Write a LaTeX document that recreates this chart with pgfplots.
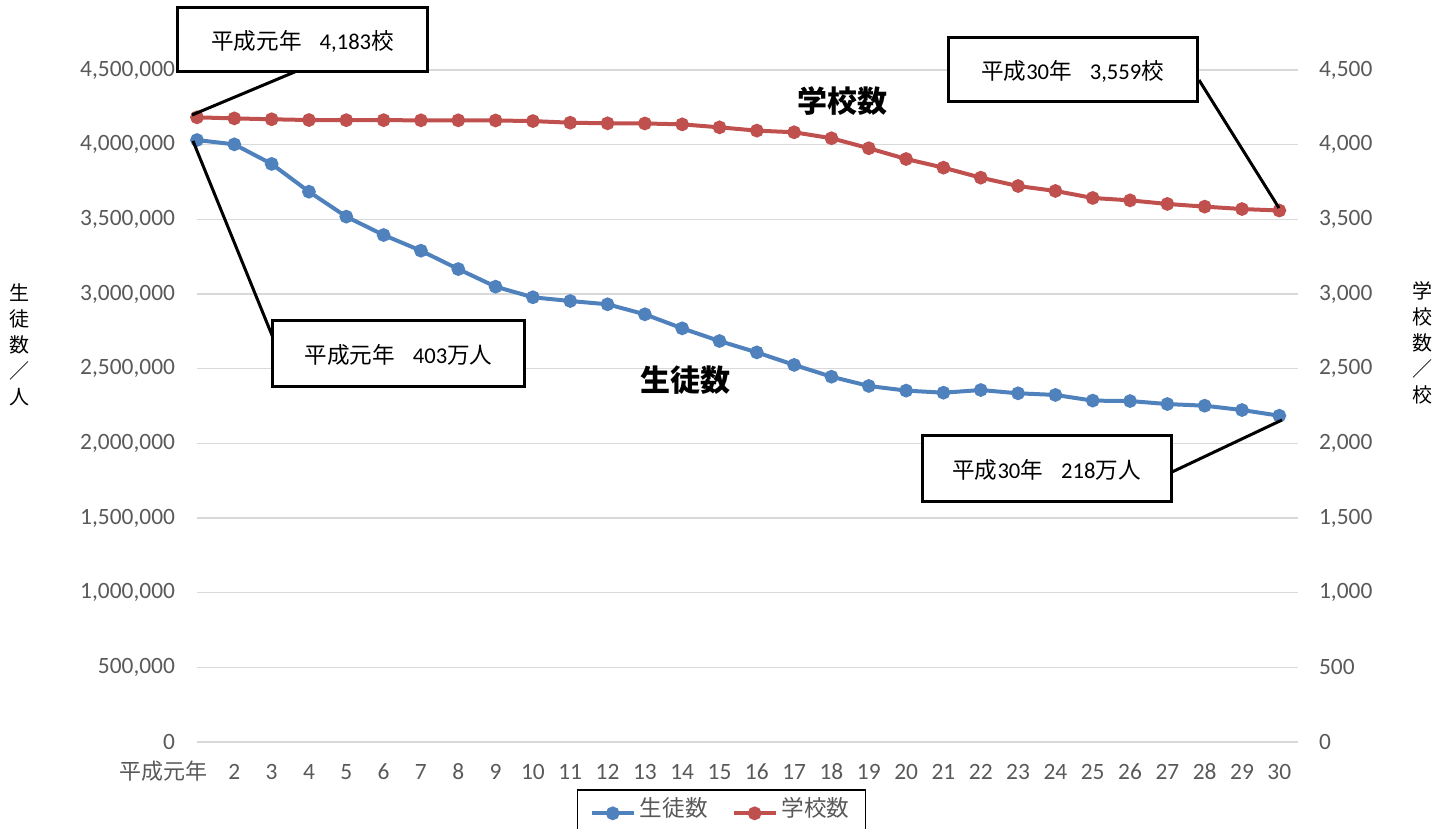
\documentclass[border=0pt]{standalone}
\usepackage{fontspec}
\setmainfont{Carlito}
\newfontfamily\jp{Noto Sans CJK JP}
\usepackage{pgfplots}
\usepackage{pgfplotstable}
\pgfplotsset{compat=1.18}
\definecolor{sblue}{HTML}{4F81BD}
\definecolor{sred}{HTML}{C0504D}
\definecolor{tickgray}{HTML}{595959}
\definecolor{gridgray}{HTML}{D9D9D9}

\pgfplotstableread{
x students schools
1 4031000 4183
2 4002000 4176
3 3871000 4170
4 3685000 4165
5 3518000 4164
6 3395000 4164
7 3290000 4163
8 3167000 4163
9 3049000 4162
10 2978000 4158
11 2953000 4147
12 2931000 4143
13 2864000 4142
14 2770000 4136
15 2685000 4116
16 2609000 4094
17 2525000 4083
18 2446000 4043
19 2384000 3976
20 2353000 3904
21 2339000 3846
22 2357000 3779
23 2335000 3723
24 2324000 3690
25 2286000 3643
26 2283000 3627
27 2263000 3603
28 2252000 3585
29 2223000 3569
30 2185000 3559
}\datatable

\begin{document}
\begin{tikzpicture}
\path[use as bounding box] (-98.5pt,-43.5pt) rectangle (625.5pt,371pt);

\begin{axis}[
  scale only axis, width=550.5pt, height=336pt,
  at={(0,0)}, anchor=south west,
  xmin=1, xmax=30.5, ymin=0, ymax=4500000,
  xtick={1,...,30},
  xticklabels={{\hbox to 0pt{\hss\jp\fontsize{11}{12}\selectfont 平成元年\hspace*{-5.5pt}}},2,3,4,5,6,7,8,9,10,11,12,13,14,15,16,17,18,19,20,21,22,23,24,25,26,27,28,29,30},
  ytick={0,500000,1000000,1500000,2000000,2500000,3000000,3500000,4000000,4500000},
  scaled y ticks=false,
  /pgf/number format/assume math mode=true,
  y tick label style={/pgf/number format/fixed,/pgf/number format/precision=0,/pgf/number format/1000 sep={,},
    font=\fontsize{11.7}{12}\selectfont, text=tickgray, xshift=-7.5pt},
  x tick label style={font=\fontsize{11.7}{12}\selectfont, text=tickgray, anchor=base, yshift=-19pt},
  axis line style={draw=none},
  major tick length=0pt,
  ymajorgrids, grid style={gridgray, line width=0.6pt},
  clip=false,
]
\addplot[sblue, line width=2pt, mark=*, mark size=2.4pt, mark options={fill=sblue, draw=sblue}] table[x=x, y=students] {\datatable};
\end{axis}

\begin{axis}[
  scale only axis, width=550.5pt, height=336pt,
  at={(0,0)}, anchor=south west,
  xmin=1, xmax=30.5, ymin=0, ymax=4500,
  hide x axis,
  axis y line*=right,
  ytick={0,500,1000,1500,2000,2500,3000,3500,4000,4500},
  /pgf/number format/assume math mode=true,
  y tick label style={/pgf/number format/fixed,/pgf/number format/precision=0,/pgf/number format/1000 sep={,},
    font=\fontsize{11.7}{12}\selectfont, text=tickgray, xshift=7pt},
  axis line style={draw=none},
  major tick length=0pt,
  clip=false,
  legend columns=2,
  legend style={at={(0.3451,-0.070)}, anchor=north west, draw=black, line width=0.75pt,
    font=\jp\fontsize{11.3}{13}\selectfont, text=tickgray, inner xsep=6pt, inner ysep=2pt,
    nodes={text depth=6pt},
    /tikz/every even column/.append style={column sep=10pt}},
  legend image code/.code={\draw[mark repeat=2,mark phase=2,#1] plot coordinates {(0cm,0cm) (0.37cm,0cm) (0.74cm,0cm)};},
]
\addlegendimage{sblue, line width=2pt, mark=*, mark size=2.4pt, mark options={fill=sblue, draw=sblue}}
\addlegendentry{生徒数}
\addplot[sred, line width=2pt, mark=*, mark size=2.4pt, mark options={fill=sred, draw=sred}] table[x=x, y=schools] {\datatable};
\addlegendentry{学校数}
\end{axis}

\begin{scope}[x=0.5pt, y=-0.5pt, shift={(-98.5pt,371pt)}]
  % leader lines
  \draw[black, line width=1.5pt] (297,71) -- (192,115);
  \draw[black, line width=1.5pt] (1199,80) -- (1279,208);
  \draw[black, line width=1.5pt] (193,141) -- (278,350);
  \draw[black, line width=1.5pt] (1172,472) -- (1282,420);
  % boxes
  \draw[black, line width=1.5pt, fill=white] (178,8) rectangle (427,72);
  \node[font=\fontsize{11.3}{13}\selectfont] at (302.5,41) {{\jp 平成元年}\hspace{0.8em}4,183{\jp 校}};
  \draw[black, line width=1.5pt, fill=white] (948,38) rectangle (1197,102);
  \node[font=\fontsize{11.3}{13}\selectfont] at (1072.5,71) {{\jp 平成}30{\jp 年}\hspace{0.8em}3,559{\jp 校}};
  \draw[black, line width=1.5pt, fill=white] (273,321) rectangle (524,387);
  \node[font=\fontsize{11.3}{13}\selectfont] at (398.5,355) {{\jp 平成元年}\hspace{0.8em}403{\jp 万人}};
  \draw[black, line width=1.5pt, fill=white] (922,436) rectangle (1171,502);
  \node[font=\fontsize{11.3}{13}\selectfont] at (1046.5,470) {{\jp 平成}30{\jp 年}\hspace{0.8em}218{\jp 万人}};
  % series labels
  \node[font=\jp\bfseries\fontsize{15}{17}\selectfont] at (842,101) {学校数};
  \node[font=\jp\bfseries\fontsize{15}{17}\selectfont] at (685,380) {生徒数};
  % axis titles
  \node[font=\jp\fontsize{10}{13}\selectfont, align=center] at (20,345) {生\\徒\\数\\／\\人};
  \node[font=\jp\fontsize{10}{13}\selectfont, align=center] at (1422,343) {学\\校\\数\\／\\校};
\end{scope}
\end{tikzpicture}
\end{document}
